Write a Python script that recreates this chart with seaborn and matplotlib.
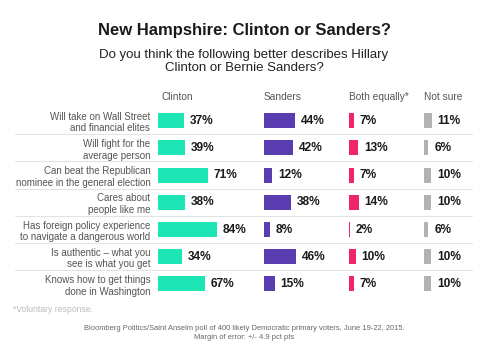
import matplotlib
matplotlib.use("Agg")
import matplotlib.pyplot as plt
import seaborn as sns
import pandas as pd
from matplotlib.lines import Line2D

sns.set_theme(style="white")
plt.rcParams['font.family'] = ['Liberation Sans', 'DejaVu Sans']

statements = [
    "Will take on Wall Street\nand financial elites",
    "Will fight for the\naverage person",
    "Can beat the Republican\nnominee in the general election",
    "Cares about\npeople like me",
    "Has foreign policy experience\nto navigate a dangerous world",
    "Is authentic \u2013 what you\nsee is what you get",
    "Knows how to get things\ndone in Washington",
]
clinton = [37, 39, 71, 38, 84, 34, 67]
sanders = [44, 42, 12, 38, 8, 46, 15]
both_equally = [7, 13, 7, 14, 2, 10, 7]
not_sure = [11, 6, 10, 10, 6, 10, 10]
columns = ["Clinton", "Sanders", "Both equally*", "Not sure"]
colors = ["#1de5b3", "#5a3db0", "#ef2768", "#b2b2b4"]

W, H = 488, 352
fig = plt.figure(figsize=(W / 100, H / 100), dpi=100)
fig.patch.set_facecolor("white")

def fx(px):
    return px / W

def fy(py):
    return 1 - py / H

row0 = 120.7
step = 27.2
top = row0 - step / 2
bottom = row0 + step * 6.5
PX_PER = 0.70
col_left = [158, 264, 348.7, 424]
col_w = [90, 80, 70, 55]

series = [clinton, sanders, both_equally, not_sure]
for k, (name, vals) in enumerate(zip(columns, series)):
    df = pd.DataFrame({"statement": statements, "value": vals})
    ax = fig.add_axes([fx(col_left[k]), fy(bottom), fx(col_w[k]), (bottom - top) / H])
    sns.barplot(data=df, x="value", y="statement", ax=ax, color=colors[k],
                orient="h", width=0.55, saturation=1, order=statements,
                linewidth=0)
    ax.set_xlim(0, col_w[k] / PX_PER)
    ax.set_ylim(6.5, -0.5)
    for c in ax.containers:
        ax.bar_label(c, labels=[f"{v}%" for v in vals], padding=4.3,
                     fontsize=8.6, fontweight="bold", color="#1a1a1a")
    ax.set_xlabel("")
    ax.set_ylabel("")
    ax.set_xticks([])
    for s in ax.spines.values():
        s.set_visible(False)
    ax.patch.set_alpha(0)
    if k == 0:
        ax.tick_params(axis="y", length=0, pad=5.5)
        for t in ax.get_yticklabels():
            t.set_fontsize(7.0)
            t.set_color("#555555")
            t.set_linespacing(1.2)
            t.set_ha("right")
    else:
        ax.set_yticks([])
    fig.text(fx(col_left[k] + (4 if k == 0 else 0)), fy(97.5), name, fontsize=7.3,
             color="#555555", ha="left", va="center")

for i in range(6):
    y = row0 + step * (i + 0.5)
    fig.add_artist(Line2D([fx(15), fx(472)], [fy(y), fy(y)], color="#e3e3e3", lw=0.8))

fig.text(0.5, fy(30), "New Hampshire: Clinton or Sanders?", fontsize=12.0,
         fontweight="bold", color="#1a1a1a", ha="center", va="center")
fig.text(0.5, fy(61.5), "Do you think the following better describes Hillary\nClinton or Bernie Sanders?",
         fontsize=9.5, color="#222222", ha="center", va="center", linespacing=1.15)
fig.text(fx(13), fy(309), "*Voluntary response.", fontsize=6.2, color="#bbbbbb",
         ha="left", va="center")
fig.text(0.5, fy(333), "Bloomberg Politics/Saint Anselm poll of 400 likely Democratic primary voters, June 19-22, 2015.\nMargin of error: +/- 4.9 pct pts",
         fontsize=5.4, color="#666666", ha="center", va="center", linespacing=1.3)

fig.savefig("out.png", dpi=100, facecolor="white")
